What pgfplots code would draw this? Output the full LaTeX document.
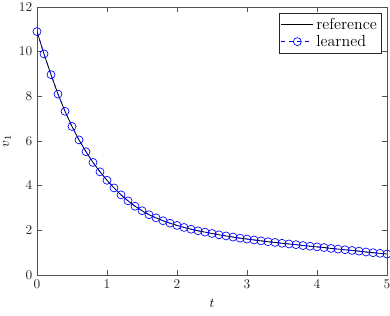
\documentclass[border=0pt]{standalone}
\usepackage{pgfplots}
\pgfplotsset{compat=1.18}
\usepackage{pgfplotstable}
\pgfplotstableread{
t v
0.0 10.90
0.1 9.90
0.2 8.97
0.3 8.10
0.4 7.33
0.5 6.65
0.6 6.05
0.7 5.52
0.8 5.04
0.9 4.62
1.0 4.24
1.1 3.90
1.2 3.59
1.3 3.32
1.4 3.08
1.5 2.88
1.6 2.70
1.7 2.56
1.8 2.43
1.9 2.32
2.0 2.22
2.1 2.13
2.2 2.05
2.3 1.98
2.4 1.92
2.5 1.86
2.6 1.80
2.7 1.75
2.8 1.70
2.9 1.65
3.0 1.61
3.1 1.57
3.2 1.53
3.3 1.49
3.4 1.46
3.5 1.42
3.6 1.39
3.7 1.36
3.8 1.32
3.9 1.29
4.0 1.26
4.1 1.23
4.2 1.19
4.3 1.16
4.4 1.13
4.5 1.10
4.6 1.07
4.7 1.03
4.8 1.00
4.9 0.97
5.0 0.94
}\datatab
\definecolor{axgray}{rgb}{0.15,0.15,0.15}
\begin{document}
\begin{tikzpicture}
\begin{axis}[
  name=ax,
  scale only axis,
  width=262.5pt, height=201pt,
  xmin=0, xmax=5, ymin=0, ymax=12,
  xtick={0,1,2,3,4,5},
  ytick={0,2,4,6,8,10,12},
  tick align=inside,
  tick pos=both,
  major tick length=3.5pt,
  axis line style={axgray!80, line width=0.4pt},
  every tick/.style={axgray!80, line width=0.4pt},
  tick label style={font=\normalsize, text=axgray},
  xlabel={$t$}, ylabel={$v_1$},
  xlabel style={at={(rel axis cs:0.5,0)}, anchor=north, yshift=-15pt},
  ylabel style={at={(rel axis cs:0,0.5)}, anchor=south, rotate=0, yshift=16pt},
  legend style={at={(rel axis cs:0.985,0.978)}, anchor=north east,
    draw=axgray, line width=0.4pt, font=\large, inner sep=1.5pt,
    row sep=-1pt, cells={anchor=west}},
  legend image code/.code={\draw[mark repeat=2,mark phase=2,#1] plot coordinates {(0cm,0cm) (0.42cm,0cm) (0.84cm,0cm)};},
]
\addplot[black, line width=0.6pt, no markers] table[x=t,y=v] {\datatab};
\addlegendentry{reference}
\addplot[blue, dashed, line width=0.5pt, mark=o, mark size=3pt, mark options={solid}] table[x=t,y=v] {\datatab};
\addlegendentry{learned}
\end{axis}
\pgfresetboundingbox
\path[use as bounding box] ([shift={(-27.75pt,-30pt)}]ax.south west) rectangle ([shift={(2.25pt,5.25pt)}]ax.north east);
\end{tikzpicture}
\end{document}
